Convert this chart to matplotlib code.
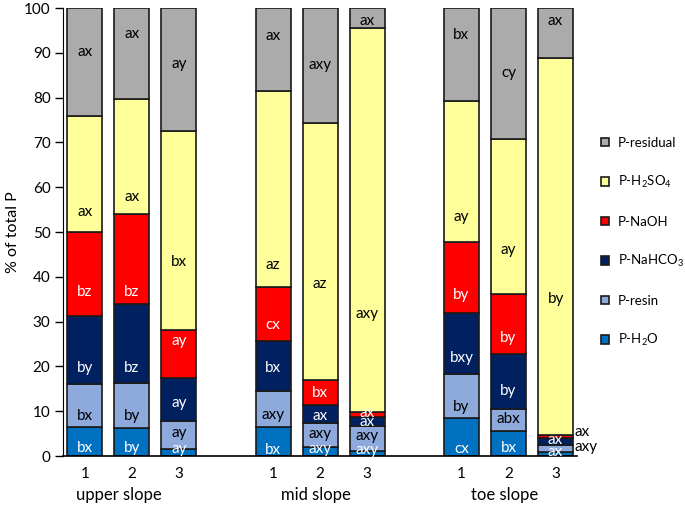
import numpy as np
import matplotlib.pyplot as plt

plt.rcParams['font.family'] = ['Lato', 'DejaVu Sans']
plt.rcParams['mathtext.fontset'] = 'custom'
plt.rcParams['mathtext.rm'] = 'Lato'

# data: % of total P, one value per bar (upper 1-3, mid 1-3, toe 1-3)
slopes    = ['upper slope', 'mid slope', 'toe slope']
bar_names = ['1', '2', '3'] * 3

p_h2o      = [6.5, 6.2, 1.6, 6.5, 2.1, 1.1, 8.4, 5.6, 0.9]
p_resin    = [9.5, 10.0, 6.2, 8.1, 5.2, 5.7, 9.9, 4.9, 1.6]
p_nahco3   = [15.3, 17.8, 9.7, 11.1, 4.1, 1.8, 13.7, 12.3, 1.6]
p_naoh     = [18.6, 20.0, 10.6, 12.1, 5.6, 1.3, 15.7, 13.3, 0.7]
p_h2so4    = [26.0, 25.7, 44.4, 43.7, 57.4, 85.6, 31.6, 34.6, 84.0]
p_residual = [24.1, 20.3, 27.5, 18.5, 25.6, 4.5, 20.7, 29.3, 11.2]

# significance letters, same order as the fractions below
letters_h2o      = ['bx', 'by', 'ay', 'bx', 'axy', 'axy', 'cx', 'bx', 'ax']
letters_resin    = ['bx', 'by', 'ay', 'axy', 'axy', 'axy', 'by', 'abx', 'axy']
letters_nahco3   = ['by', 'bz', 'ay', 'bx', 'ax', 'ax', 'bxy', 'by', 'ax']
letters_naoh     = ['bz', 'bz', 'ay', 'cx', 'bx', 'ax', 'by', 'by', 'ax']
letters_h2so4    = ['ax', 'ax', 'bx', 'az', 'az', 'axy', 'ay', 'ay', 'by']
letters_residual = ['ax', 'ax', 'ay', 'ax', 'axy', 'ax', 'bx', 'cy', 'ax']

fractions = ['P-H$_2$O', 'P-resin', 'P-NaHCO$_3$', 'P-NaOH', 'P-H$_2$SO$_4$', 'P-residual']
values  = [p_h2o, p_resin, p_nahco3, p_naoh, p_h2so4, p_residual]
letters = [letters_h2o, letters_resin, letters_nahco3, letters_naoh, letters_h2so4, letters_residual]
colors  = ['#0070C0', '#8EA9DB', '#002060', '#FF0000', '#FFFF99', '#ABABAB']
txt_col = ['white', 'black', 'white', 'white', 'black', 'black']

# hand placed label heights (as in the original figure)
label_y = [
    [1.7, 9.0, 19.7, 36.7, 54.4, 90.2],
    [1.7, 9.0, 19.6, 36.7, 57.9, 94.3],
    [1.6, 5.1, 11.8, 25.7, 43.4, 87.5],
    [1.3, 9.2, 19.7, 29.2, 42.6, 93.8],
    [1.5, 4.9, 8.9, 14.1, 38.5, 87.3],
    [1.3, 4.5, 7.7, 9.5, 31.7, 97.1],
    [1.5, 11.0, 21.8, 35.9, 53.4, 94.0],
    [1.7, 8.2, 14.5, 26.3, 46.0, 85.4],
    [0.8, 2.1, 3.6, 5.4, 35.0, 97.2],
]
outside = {(8, 1), (8, 3)}  # labels written beside the bar

x = np.array([0, 1, 2, 4, 5, 6, 8, 9, 10])
width = 0.743

fig = plt.figure(figsize=(6.85, 5.05), dpi=100)
ax = fig.add_axes([0.092, 0.097, 0.75, 0.887])

bottom = np.zeros(len(x))
handles = []
for vals, col, name in zip(values, colors, fractions):
    b = ax.bar(x, vals, width, bottom=bottom, color=col, edgecolor='#1a1a1a',
               linewidth=1.2, label=name, zorder=2)
    handles.append(b)
    bottom += np.array(vals)

for i in range(len(x)):
    for j in range(len(fractions)):
        if (i, j) in outside:
            ax.text(x[i] + width / 2 + 0.02, label_y[i][j], letters[j][i],
                    ha='left', va='center', fontsize=11, color='black')
        else:
            ax.text(x[i], label_y[i][j], letters[j][i], ha='center', va='center',
                    fontsize=11, color=txt_col[j])

ax.set_xlim(-0.463, 10.45)
ax.set_ylim(0, 100)
ax.set_yticks(np.arange(0, 101, 10))
ax.set_xticks(x)
ax.set_xticklabels(bar_names)
ax.tick_params(axis='x', length=0, pad=8, labelsize=11)
ax.tick_params(axis='y', length=6, width=1, labelsize=11, pad=3)
ax.spines['top'].set_visible(False)
ax.spines['right'].set_visible(False)
ax.spines['bottom'].set_linewidth(1.2)
ax.set_ylabel('% of total P', fontsize=11.5, labelpad=3)

for k, s in enumerate(slopes):
    gx = x[3 * k + 1] - (0.27 if k == 0 else 0.09)
    ax.text(gx, -0.087, s, transform=ax.get_xaxis_transform(), ha='center',
            va='center', fontsize=12)

fig.legend(handles[::-1], fractions[::-1], loc='upper left',
           bbox_to_anchor=(594 / 685, 1 - 130 / 505), frameon=False,
           borderpad=0, handlelength=0.65, handleheight=0.65, handletextpad=0.65,
           labelspacing=1.93, fontsize=9.5)

plt.savefig('out.png', dpi=100)
